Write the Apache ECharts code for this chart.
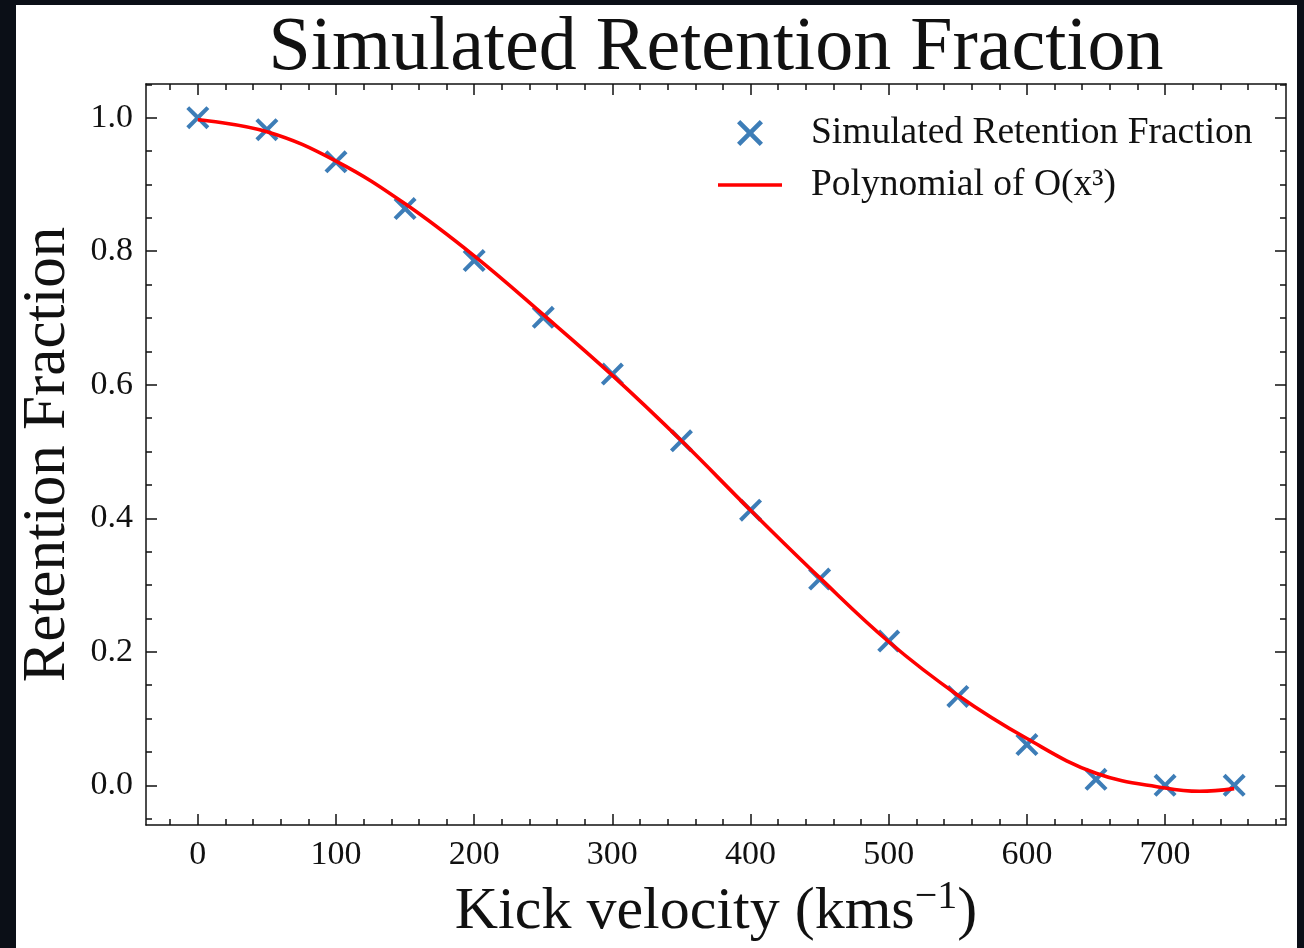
<!DOCTYPE html>
<html>
<head>
<meta charset="utf-8">
<title>Simulated Retention Fraction</title>
<script src="https://cdn.jsdelivr.net/npm/echarts@6/dist/echarts.min.js"></script>
<style>
  html, body { margin: 0; padding: 0; background: #0b0f17; }
  #chart { width: 1304px; height: 948px; }
</style>
</head>
<body>
<div id="chart"></div>
<script>
// Simulated points: kick velocity (km/s) and retention fraction
const velocities = [0, 50, 100, 150, 200, 250, 300, 350, 400, 450, 500, 550, 600, 650, 700, 750];
const retention  = [1.000, 0.982, 0.934, 0.864, 0.786, 0.701, 0.616, 0.516, 0.412, 0.309, 0.216, 0.133, 0.061, 0.009, 0.000, 0.000];

// Cubic fit curve sampled along the velocity range
const fitVelocity  = [0, 50, 100, 150, 200, 250, 300, 350, 400, 450, 500, 550, 600, 650, 700, 725, 750];
const fitRetention = [0.997, 0.979, 0.935, 0.871, 0.793, 0.705, 0.614, 0.516, 0.412, 0.311, 0.215, 0.135, 0.070, 0.018, -0.004, -0.009, -0.005];

// Tick values
const xMajorTicks = [0, 100, 200, 300, 400, 500, 600, 700];
const yMajorTicks = [0.0, 0.2, 0.4, 0.6, 0.8, 1.0];
const xMinorTicks = [];
for (let v = -20; v <= 780; v += 20) if (v % 100 !== 0) xMinorTicks.push(v);
const yMinorTicks = [];
for (let i = -1; i <= 21; i++) if (i % 4 !== 0) yMinorTicks.push(+(i * 0.05).toFixed(2));

const X_MIN = -37.5, X_MAX = 787.5;
const Y_MIN = -0.0595, Y_MAX = 1.0505;

const serif = '"Liberation Serif", "DejaVu Serif", serif';
const black = '#111';
// thick "x" marker
const markerPath = 'path://M2.5,0 L10,7.5 L17.5,0 L20,2.5 L12.5,10 L20,17.5 L17.5,20 L10,12.5 L2.5,20 L0,17.5 L7.5,10 L0,2.5 Z';
// short horizontal stroke for the fit line's legend entry (empty sub-paths fix the box to 64x26)
const legendLinePath = 'path://M0,0 L64,0 L64,0 Z M0,11.3 L64,11.3 L64,14.7 L0,14.7 Z M0,26 L64,26 L64,26 Z';

function axisSet(kind, position, ticks, length, showLine, labels) {
  const isX = kind === 'x';
  return {
    type: 'value',
    gridIndex: 0,
    position: position,
    min: isX ? X_MIN : Y_MIN,
    max: isX ? X_MAX : Y_MAX,
    axisLine: { show: showLine, onZero: false, lineStyle: { color: black, width: 1.5 } },
    axisTick: { show: true, inside: true, length: length, customValues: ticks, lineStyle: { color: black, width: 1.5 } },
    axisLabel: labels ? {
      show: true,
      customValues: ticks,
      color: black,
      fontFamily: serif,
      fontSize: 34,
      margin: 13,
      formatter: v => isX ? String(Math.round(v)) : v.toFixed(1)
    } : { show: false },
    splitLine: { show: false },
    minorTick: { show: false }
  };
}

const xAxes = [
  Object.assign(axisSet('x', 'bottom', xMajorTicks, 11, true, true), {
    name: 'Kick velocity (kms{sup|−1})',
    nameLocation: 'middle',
    nameGap: 52,
    nameTextStyle: {
      color: black, fontFamily: serif, fontSize: 60,
      rich: { sup: { fontFamily: serif, fontSize: 40, color: black, verticalAlign: 'top', padding: [0, 0, 30, 0] } }
    }
  }),
  axisSet('x', 'bottom', xMinorTicks, 6, false, false),
  axisSet('x', 'top', xMajorTicks, 11, true, false),
  axisSet('x', 'top', xMinorTicks, 6, false, false)
];

const yAxes = [
  Object.assign(axisSet('y', 'left', yMajorTicks, 11, true, true), {
    name: 'Retention Fraction',
    nameLocation: 'middle',
    nameGap: 68,
    nameTextStyle: { color: black, fontFamily: serif, fontSize: 61 }
  }),
  axisSet('y', 'left', yMinorTicks, 6, false, false),
  axisSet('y', 'right', yMajorTicks, 11, true, false),
  axisSet('y', 'right', yMinorTicks, 6, false, false)
];

const chart = echarts.init(document.getElementById('chart'), null, { renderer: 'canvas' });

chart.setOption({
  backgroundColor: '#0b0f17',
  animation: false,
  graphic: [{
    type: 'rect',
    z: -10,
    silent: true,
    shape: { x: 16, y: 5, width: 1281, height: 950 },
    style: { fill: '#ffffff' }
  }],
  title: {
    text: 'Simulated Retention Fraction',
    left: 711,
    top: 6,
    textAlign: 'center',
    textStyle: { color: black, fontFamily: serif, fontSize: 76, fontWeight: 'normal' }
  },
  grid: { left: 146, right: 18, top: 84, bottom: 123, containLabel: false },
  legend: {
    orient: 'vertical',
    left: 713,
    top: 108,
    itemWidth: 64,
    itemHeight: 26,
    itemGap: 12,
    textStyle: { color: black, fontFamily: serif, fontSize: 37.5, padding: [0, 0, 0, 24], lineHeight: 40 },
    data: [
      { name: 'Simulated Retention Fraction' },
      { name: 'Polynomial of O(x³)', icon: legendLinePath }
    ]
  },
  xAxis: xAxes,
  yAxis: yAxes,
  series: [
    {
      name: 'Simulated Retention Fraction',
      type: 'scatter',
      xAxisIndex: 0,
      yAxisIndex: 0,
      symbol: markerPath,
      symbolSize: 23,
      itemStyle: { color: '#0C5DA5' },
      data: velocities.map((v, i) => [v, retention[i]]),
      z: 2
    },
    {
      name: 'Polynomial of O(x³)',
      type: 'line',
      xAxisIndex: 0,
      yAxisIndex: 0,
      smooth: 0.4,
      showSymbol: false,
      symbol: 'none',
      lineStyle: { color: '#ff0000', width: 3.6 },
      itemStyle: { color: '#ff0000' },
      data: fitVelocity.map((v, i) => [v, fitRetention[i]]),
      z: 3
    }
  ]
});
</script>
</body>
</html>
